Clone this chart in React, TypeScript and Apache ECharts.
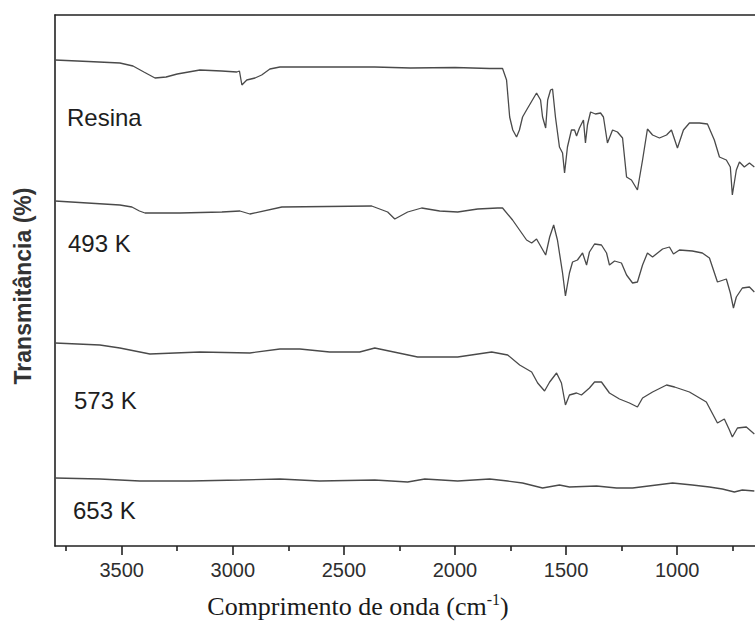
import React, { useEffect, useRef } from "react";
import * as echarts from "echarts";

// FTIR spectra: [wavenumber (cm-1), transmittance (offset, a.u.)]
const resina: [number, number][] = [
  [3800, 97.2], [3650, 96.9], [3508, 96.6], [3449, 96.0], [3400, 94.8], [3350, 93.6],
  [3300, 93.8], [3250, 94.4], [3148, 95.2], [3050, 95.0], [2982, 94.8], [2970, 95.0],
  [2959, 92.2], [2937, 93.2], [2900, 93.6], [2870, 94.2], [2833, 95.4], [2788, 95.8],
  [2600, 95.8], [2361, 95.8], [2200, 95.6], [2000, 95.7], [1844, 95.5], [1786, 95.5],
  [1768, 93.2], [1754, 85.8], [1740, 83.2], [1723, 81.8], [1710, 83.2], [1696, 85.8],
  [1678, 87.2], [1633, 90.6], [1615, 89.2], [1606, 85.8], [1592, 83.6], [1583, 89.2],
  [1570, 91.2], [1561, 91.4], [1548, 85.8], [1530, 79.8], [1516, 78.6], [1507, 74.6],
  [1494, 79.8], [1476, 83.2], [1462, 83.2], [1453, 82.0], [1440, 83.6], [1422, 85.2],
  [1413, 80.6], [1404, 84.2], [1390, 86.8], [1368, 86.4], [1345, 86.6], [1332, 85.8],
  [1314, 80.6], [1291, 83.2], [1269, 82.8], [1246, 81.6], [1228, 73.8], [1206, 73.2],
  [1179, 71.2], [1156, 77.2], [1134, 83.4], [1111, 82.2], [1080, 81.6], [1048, 82.2],
  [1026, 83.2], [999, 79.6], [972, 83.2], [945, 84.6], [900, 84.6], [864, 84.4],
  [833, 81.2], [810, 77.8], [779, 77.2], [761, 75.8], [752, 70.2], [734, 75.2],
  [720, 76.8], [698, 75.8], [675, 76.6], [653, 75.8],
];

const k493: [number, number][] = [
  [3800, 69.0], [3508, 68.2], [3454, 67.8], [3420, 67.0], [3395, 66.6], [3238, 66.6], [3049, 66.8],
  [2968, 67.0], [2923, 66.4], [2779, 67.8], [2375, 68.0], [2303, 66.8], [2271, 65.4],
  [2213, 66.8], [2150, 67.6], [2069, 67.0], [1988, 66.8], [1898, 67.4], [1808, 67.6],
  [1786, 67.6], [1741, 65.2], [1678, 61.2], [1655, 60.6], [1633, 61.4], [1592, 58.2],
  [1574, 61.8], [1556, 64.2], [1539, 61.2], [1516, 54.6], [1503, 50.0], [1485, 54.6],
  [1471, 56.8], [1449, 57.2], [1426, 58.6], [1408, 56.2], [1395, 58.8], [1372, 60.4],
  [1341, 60.2], [1318, 58.6], [1305, 56.2], [1282, 57.0], [1251, 56.6], [1228, 54.2],
  [1201, 52.6], [1179, 52.8], [1156, 56.2], [1134, 58.6], [1111, 57.8], [1066, 59.4],
  [1035, 59.8], [1017, 58.4], [990, 59.2], [932, 59.0], [887, 58.6], [855, 57.6],
  [819, 52.8], [779, 53.4], [761, 50.6], [747, 47.6], [734, 49.8], [707, 51.6],
  [675, 51.8], [653, 50.8],
];

const k573: [number, number][] = [
  [3800, 40.6], [3598, 40.2], [3508, 39.6], [3373, 38.4], [3148, 38.8], [2923, 38.6],
  [2788, 39.4], [2698, 39.4], [2564, 38.8], [2429, 38.8], [2361, 39.6], [2168, 37.8],
  [1988, 37.8], [1835, 38.8], [1763, 38.2], [1709, 36.2], [1655, 34.8], [1628, 32.6],
  [1597, 31.0], [1574, 32.8], [1543, 34.6], [1521, 32.6], [1503, 28.2], [1485, 30.2],
  [1453, 30.6], [1431, 30.2], [1395, 31.6], [1372, 32.8], [1341, 32.8], [1305, 30.6],
  [1260, 29.4], [1215, 28.6], [1179, 27.8], [1156, 29.6], [1111, 30.8], [1048, 32.2],
  [1012, 31.8], [945, 30.8], [869, 28.8], [819, 24.6], [788, 25.4], [765, 23.2],
  [752, 21.8], [729, 23.6], [689, 23.8], [653, 22.4],
];

const k653: [number, number][] = [
  [3800, 13.6], [3598, 13.4], [3418, 13.0], [3193, 13.0], [2968, 13.2], [2788, 13.4],
  [2609, 13.0], [2361, 13.2], [2213, 12.8], [2136, 13.4], [1988, 13.0], [1844, 13.4],
  [1763, 13.0], [1696, 12.6], [1606, 11.6], [1530, 12.2], [1485, 11.8], [1363, 12.0],
  [1273, 11.6], [1201, 11.6], [1093, 12.2], [1021, 12.6], [932, 12.2], [855, 11.8],
  [797, 11.4], [743, 10.8], [707, 11.2], [653, 11.0],
];

const seriesNames = ["Resina", "493 K", "573 K", "653 K"];
const seriesData = [resina, k493, k573, k653];

const majorTicks = [3500, 3000, 2500, 2000, 1500, 1000];
const minorTicks = [3750, 3250, 2750, 2250, 1750, 1250, 750];

const X_MIN = 650;
const X_MAX = 3800;
const Y_MIN = 0;
const Y_MAX = 106.2;

const SANS = "'Liberation Sans', Arial, Helvetica, sans-serif";
const SERIF = "'Liberation Serif', 'Times New Roman', serif";

// label anchor positions (px) for the sample names
const labelPos: [number, number][] = [
  [67, 117],
  [68, 243],
  [74, 400],
  [73, 510],
];

export default function App() {
  const ref = useRef<HTMLDivElement>(null);

  useEffect(() => {
    if (!ref.current) return;
    const chart = echarts.init(ref.current, undefined, { renderer: "svg" });

    const axisLineStyle = { color: "#222", width: 1.6 };

    const option: any = {
      animation: false,
      backgroundColor: "#ffffff",
      grid: { left: 55, top: 15, right: 0, bottom: 75, containLabel: false },
      xAxis: [
        {
          type: "value",
          min: X_MIN,
          max: X_MAX,
          inverse: true,
          position: "bottom",
          axisLine: { show: true, onZero: false, lineStyle: axisLineStyle },
          axisTick: {
            show: true,
            inside: false,
            length: 9,
            customValues: majorTicks,
            lineStyle: { color: "#222", width: 1.6 },
          },
          axisLabel: {
            show: true,
            customValues: majorTicks,
            formatter: (v: number) => String(v),
            margin: 14,
            fontSize: 20,
            fontFamily: SANS,
            color: "#2e2e2e",
          },
          splitLine: { show: false },
        },
        {
          type: "value",
          min: X_MIN,
          max: X_MAX,
          inverse: true,
          position: "bottom",
          axisLine: { show: false, onZero: false },
          axisTick: {
            show: true,
            inside: false,
            length: 5,
            customValues: minorTicks,
            lineStyle: { color: "#222", width: 1.6 },
          },
          axisLabel: { show: false },
          splitLine: { show: false },
        },
        {
          type: "value",
          min: X_MIN,
          max: X_MAX,
          inverse: true,
          position: "top",
          axisLine: { show: true, onZero: false, lineStyle: axisLineStyle },
          axisTick: { show: false },
          axisLabel: { show: false },
          splitLine: { show: false },
        },
      ],
      yAxis: {
        type: "value",
        min: Y_MIN,
        max: Y_MAX,
        axisLine: { show: true, onZero: false, lineStyle: axisLineStyle },
        axisTick: { show: false },
        axisLabel: { show: false },
        splitLine: { show: false },
      },
      series: seriesData.map((data, i) => ({
        name: seriesNames[i],
        type: "line",
        xAxisIndex: 0,
        data,
        showSymbol: false,
        symbol: "none",
        lineStyle: { color: "#4a4a4a", width: 1.3 },
        silent: true,
      })),
      graphic: [
        ...seriesNames.map((name, i) => ({
          type: "text",
          x: labelPos[i][0],
          y: labelPos[i][1],
          style: {
            text: name,
            fontSize: 24,
            fontFamily: SANS,
            fill: "#1e1e1e",
            align: "left",
            verticalAlign: "middle",
          },
        })),
        {
          type: "text",
          x: 23,
          y: 286,
          rotation: Math.PI / 2,
          style: {
            text: "Transmitância (%)",
            fontSize: 23,
            fontWeight: "bold",
            fontFamily: SANS,
            fill: "#333",
            align: "center",
            verticalAlign: "middle",
          },
        },
        {
          type: "text",
          x: 358,
          y: 606,
          style: {
            text: "{a|Comprimento de onda (cm}{s|-1}{a|)}",
            align: "center",
            verticalAlign: "middle",
            rich: {
              a: { fontSize: 26, fontFamily: SERIF, fill: "#1a1a1a", color: "#1a1a1a" },
              s: {
                fontSize: 16,
                fontFamily: SERIF,
                fill: "#1a1a1a",
                color: "#1a1a1a",
                verticalAlign: "top",
                padding: [0, 0, 14, 0],
              },
            },
          },
        },
      ],
    };

    chart.setOption(option);
    return () => chart.dispose();
  }, []);

  return (
    <div
      ref={ref}
      style={{ position: "fixed", left: 0, top: 0, width: 755, height: 621, background: "#fff" }}
    />
  );
}
